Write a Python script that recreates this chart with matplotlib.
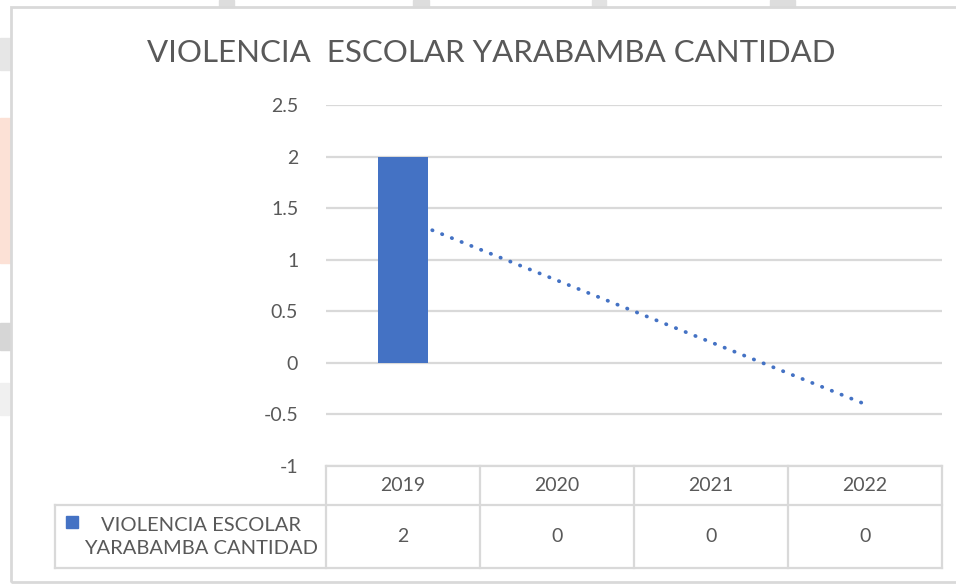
import numpy as np
import matplotlib.pyplot as plt
from matplotlib.patches import Rectangle
from matplotlib.transforms import blended_transform_factory

# data
years = ['2019', '2020', '2021', '2022']
cantidad = [2, 0, 0, 0]
serie = 'VIOLENCIA ESCOLAR\nYARABAMBA CANTIDAD'
titulo = 'VIOLENCIA  ESCOLAR YARABAMBA CANTIDAD'
yticks = [-1, -0.5, 0, 0.5, 1, 1.5, 2, 2.5]

plt.rcParams['font.family'] = ['Lato', 'DejaVu Sans']
gray_txt = '#595959'
grid_c = '#D9D9D9'
blue = '#4472C4'

W, H = 956, 585
fig = plt.figure(figsize=(W / 100, H / 100), dpi=100)
fig.patch.set_facecolor('white')

def px(x0, y0, x1, y1):
    return [x0 / W, 1 - y1 / H, (x1 - x0) / W, (y1 - y0) / H]

# faint spreadsheet bits around the chart
for (x0, y0, x1, y1, c) in [(219, 0, 234, 7, '#DDDDDD'), (413, 0, 429, 7, '#DDDDDD'),
                           (592, 0, 606, 7, '#E2E2E2'), (770, 0, 795, 7, '#DDDDDD'),
                           (0, 118, 10, 263, '#FCE1D6'), (0, 323, 10, 350, '#D6D6D6'),
                           (0, 383, 9, 415, '#F0F0F0'), (0, 38, 10, 70, '#E6E6E6')]:
    fig.patches.append(Rectangle((x0 / W, 1 - y1 / H), (x1 - x0) / W, (y1 - y0) / H,
                                 transform=fig.transFigure, color=c, zorder=0))

# chart border
fig.patches.append(Rectangle((11 / W, 1 - 582 / H), (W + 10 - 11) / W, (582 - 7) / H,
                             transform=fig.transFigure, fill=False, ec=grid_c, lw=2, zorder=1))

ax = fig.add_axes(px(326, 105, 942, 466))
x = np.arange(len(years))
ax.bar(x, cantidad, width=0.32, color=blue, zorder=3)

# linear trendline
coef = np.polyfit(x, cantidad, 1)
tx = np.array([x[0], x[-1]])
ax.plot(tx, np.polyval(coef, tx), color=blue, lw=2.7, linestyle=(0, (0.1, 2.7)),
        dash_capstyle='round', zorder=2)

ax.set_xlim(-0.5, len(years) - 0.5)
ax.set_ylim(-1, 2.5)
ax.set_yticks(yticks)
ax.set_yticklabels([f'{v:g}' for v in yticks])
ax.yaxis.grid(True, color=grid_c, lw=1.6, zorder=0)
ax.set_axisbelow(True)
ax.tick_params(axis='y', length=0, pad=20, labelsize=14, labelcolor=gray_txt)
ax.set_xticks([])
for s in ax.spines.values():
    s.set_visible(False)

fig.text(491 / W, 1 - 53 / H, titulo, ha='center', va='center', fontsize=22.5, color=gray_txt)

# data table below the axis
tr = blended_transform_factory(ax.transData, ax.transAxes)
ah = 361
r1 = -(505 - 466) / ah
r2 = -(568 - 466) / ah
x_left = -0.5 - (326 - 55) / 154
lkw = dict(transform=tr, color=grid_c, lw=1.6, clip_on=False, solid_capstyle='projecting')
ax.plot([-0.5, 3.5], [0, 0], **lkw)
ax.plot([x_left, 3.5], [r1, r1], **lkw)
ax.plot([x_left, 3.5], [r2, r2], **lkw)
ax.plot([x_left, x_left], [r1, r2], **lkw)
for b in np.arange(len(years) + 1) - 0.5:
    ax.plot([b, b], [0, r2], **lkw)
for i, (yr, v) in enumerate(zip(years, cantidad)):
    ax.text(i, r1 / 2, yr, transform=tr, ha='center', va='center', fontsize=14, color=gray_txt)
    ax.text(i, (r1 + r2) / 2, f'{v:g}', transform=tr, ha='center', va='center', fontsize=14,
            color=gray_txt)

fig.patches.append(Rectangle((66 / W, 1 - 528 / H), 12 / W, 12 / H, transform=fig.transFigure,
                             color=blue, zorder=3))
fig.text(201 / W, 1 - 537 / H, serie, ha='center', va='center', fontsize=14.5, color=gray_txt,
         linespacing=1.4)

fig.savefig('out.png', dpi=100)
